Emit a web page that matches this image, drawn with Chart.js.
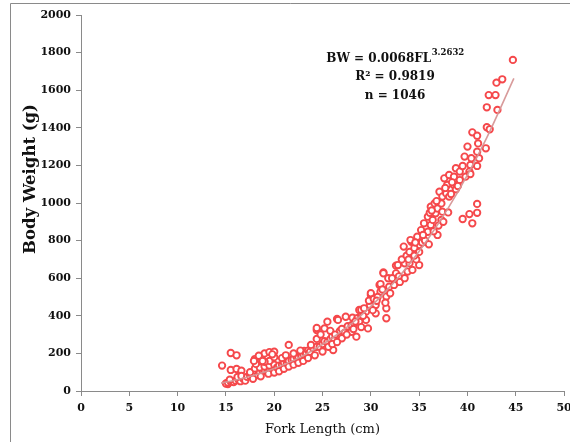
<!DOCTYPE html>
<html>
<head>
<meta charset="utf-8">
<script src="https://cdn.jsdelivr.net/npm/chart.js@4/dist/chart.umd.min.js"></script>
<style>
  html, body { margin: 0; padding: 0; background: #fff; }
  #wrap { width: 570px; height: 442px; position: relative; }
</style>
</head>
<body>
<div id="wrap"><canvas id="c" width="570" height="442"></canvas></div>
<script>
// Fork length (cm) of each plotted fish
const forkLength = [
  14.6,15.5,16.1,15.5,16.1,16.6,15.2,15.0,15.2,15.5,15.8,16.0,16.3,16.5,16.8,17.0,15.4,16.2,16.6,17.0,
  17.2,17.5,17.8,18.0,18.3,18.5,18.8,19.0,19.3,19.5,19.8,20.0,17.5,18.0,18.5,19.0,19.5,20.0,17.8,18.6,19.4,20.0,
  18.0,18.1,18.7,19.0,19.5,20.0,19.5,18.4,19.0,20.0,18.8,19.8,17.9,
  20.3,20.5,20.8,21.0,21.3,21.5,21.8,22.0,22.3,22.5,22.8,23.0,23.1,20.5,21.0,21.5,22.0,22.5,23.0,21.5,20.8,21.2,22.0,22.7,
  23.3,23.5,23.7,24.0,24.4,24.7,24.4,24.4,24.4,23.8,25.0,25.2,25.5,25.8,26.0,26.1,26.2,25.2,25.5,24.8,25.8,23.5,24.2,25.0,25.6,26.0,
  26.5,26.6,27.4,28.1,28.0,28.5,28.6,28.8,29.0,26.3,26.8,27.0,27.3,27.6,28.0,28.3,28.8,29.0,27.0,27.5,28.2,26.5,29.0,
  29.5,29.5,29.7,29.9,30.0,30.0,30.5,30.5,30.9,31.0,31.0,31.3,31.3,31.6,31.6,31.6,31.9,29.3,29.8,30.3,30.7,31.2,31.8,30.2,29.2,
  32.4,32.6,32.6,32.8,33.4,33.5,33.8,34.2,34.3,35.0,35.0,34.1,34.8,32.2,32.9,33.2,33.7,34.0,34.5,34.7,33.0,33.5,34.0,34.5,35.0,
  35.2,35.5,35.9,35.9,36.1,36.2,36.2,36.4,36.6,36.7,36.9,36.9,37.1,37.3,37.3,37.4,37.4,37.6,37.8,37.9,38.1,38.1,35.3,35.6,36.0,36.5,37.0,37.5,38.0,
  38.3,38.6,38.6,38.8,38.8,39.2,39.2,39.5,39.7,39.8,40.0,40.2,40.3,40.3,40.4,40.5,41.0,41.0,41.0,41.1,41.2,41.9,42.0,42.0,42.2,42.3,42.9,43.0,43.1,43.6,44.7,
  41.0,41.0,40.2,39.5,40.5,
  33.9,34.6,35.4,36.3,36.8,37.7,38.4,39.0,31.5,32.0,30.6,28.4
];
// Body weight (g) of each plotted fish
const bodyWeight = [
  135,202,190,112,117,108,37,40,45,50,48,55,60,52,65,70,60,75,80,55,
  75,80,90,95,85,100,105,110,100,115,120,110,100,120,125,130,135,140,65,78,92,98,
  170,144,175,200,207,209,160,188,155,180,160,195,160,
  125,135,140,150,145,160,165,170,182,177,185,195,213,105,118,130,140,150,160,245,175,190,200,215,
  200,215,209,230,235,236,277,324,335,245,250,265,260,275,290,218,271,333,369,300,320,175,190,210,235,250,
  383,378,395,390,315,289,387,431,431,300,320,330,310,345,350,360,370,400,280,300,330,260,340,
  378,422,333,457,511,520,413,457,564,528,569,631,626,440,502,387,555,440,480,490,500,540,600,430,400,
  564,626,667,670,768,679,635,794,644,777,670,803,821,600,610,700,720,740,760,700,580,600,680,720,740,
  856,892,847,927,948,883,980,910,998,945,830,971,1060,910,998,954,1034,1131,1051,1096,1034,1149,790,800,780,850,880,900,950,
  1048,1140,1096,1073,1185,1167,1122,1197,1247,1140,1300,1167,1202,1154,1238,1376,1358,1273,1197,1317,1238,1291,1509,1403,1574,1392,1574,1640,1495,1658,1761,
  995,948,941,915,892,
  700,790,830,960,1010,1080,1110,1090,470,520,480,370
];
// Fitted power curve (BW = 0.0068 FL^3.2632)
const trendLength = [14.5,16,18,20,22,24,26,28,30,32,34,36,38,40,42,44.8];
const trendWeight = [42,58,85,120,163,217,282,359,450,555,676,815,973,1150,1348,1663];

const xTicks = [0,5,10,15,20,25,30,35,40,45,50];
const yTicks = [0,200,400,600,800,1000,1200,1400,1600,1800,2000];

const xTitle = 'Fork Length (cm)';
const yTitle = 'Body Weight (g)';
const annotationLines = ['BW = 0.0068FL', 'R² = 0.9819', 'n = 1046'];
const annotationSup = '3.2632';

const scatterPts = forkLength.map((x, i) => ({ x: x, y: bodyWeight[i] }));
const trendPts = trendLength.map((x, i) => ({ x: x, y: trendWeight[i] }));

const SERIF = '"DejaVu Serif", "Liberation Serif", serif';

const framePlugin = {
  id: 'frame',
  beforeDraw(chart) {
    const ctx = chart.ctx;
    ctx.save();
    ctx.fillStyle = '#fff';
    ctx.fillRect(0, 0, chart.width, chart.height);
    ctx.strokeStyle = '#8a8a8a';
    ctx.lineWidth = 1;
    ctx.beginPath();
    ctx.moveTo(10.5, chart.height);
    ctx.lineTo(10.5, 3.5);
    ctx.lineTo(chart.width, 3.5);
    ctx.stroke();
    ctx.restore();
  },
  afterDraw(chart) {
    const ctx = chart.ctx;
    ctx.save();
    // y axis title
    ctx.fillStyle = '#111';
    ctx.font = 'bold 16.5px ' + SERIF;
    ctx.textAlign = 'center';
    ctx.textBaseline = 'middle';
    ctx.translate(31, 179);
    ctx.rotate(-Math.PI / 2);
    ctx.fillText(yTitle, 0, 0);
    ctx.restore();

    // equation block
    const cx = 395;
    ctx.save();
    ctx.fillStyle = '#111';
    ctx.textBaseline = 'alphabetic';
    ctx.font = 'bold 12px ' + SERIF;
    const mainW = ctx.measureText(annotationLines[0]).width;
    ctx.font = 'bold 8.5px ' + SERIF;
    const supW = ctx.measureText(annotationSup).width;
    const start = cx - (mainW + supW) / 2;
    ctx.font = 'bold 12px ' + SERIF;
    ctx.textAlign = 'left';
    ctx.fillText(annotationLines[0], start, 62);
    ctx.font = 'bold 8.5px ' + SERIF;
    ctx.fillText(annotationSup, start + mainW + 0.5, 55);
    ctx.font = 'bold 12px ' + SERIF;
    ctx.textAlign = 'center';
    ctx.fillText(annotationLines[1], cx, 80);
    ctx.fillText(annotationLines[2], cx, 98.5);
    ctx.restore();
  }
};

new Chart(document.getElementById('c'), {
  type: 'scatter',
  data: {
    datasets: [
      {
        type: 'line',
        data: trendPts,
        borderColor: 'rgba(214,150,150,0.95)',
        borderWidth: 1.6,
        pointRadius: 0,
        fill: false,
        cubicInterpolationMode: 'monotone',
        order: 0
      },
      {
        data: scatterPts,
        pointRadius: 3.2,
        pointBorderWidth: 1.9,
        borderColor: '#f5484b',
        backgroundColor: '#ffffff',
        pointBackgroundColor: '#ffffff',
        pointBorderColor: '#f5484b',
        order: 1
      }
    ]
  },
  options: {
    responsive: false,
    animation: false,
    devicePixelRatio: 1,
    layout: { padding: { left: 0, right: 5, top: 15, bottom: 0 } },
    plugins: { legend: { display: false }, tooltip: { enabled: false } },
    scales: {
      x: {
        type: 'linear',
        min: 0, max: 50,
        afterBuildTicks(s) { s.ticks = xTicks.map(v => ({ value: v })); },
        afterFit(s) { s.height = 51; s.paddingLeft = 0; s.paddingRight = 0; },
        border: { display: true, color: '#8a8a8a', width: 1 },
        grid: { display: true, drawOnChartArea: false, drawTicks: true, tickLength: 5, color: '#8a8a8a' },
        ticks: { color: '#111', font: { family: SERIF, size: 11, weight: 'bold' }, padding: 6, maxRotation: 0,
                 callback: v => String(v) },
        title: { display: true, text: xTitle, color: '#111', font: { family: SERIF, size: 13, weight: 'normal' }, padding: { top: 3, bottom: 5 } }
      },
      y: {
        type: 'linear',
        min: 0, max: 2000,
        afterBuildTicks(s) { s.ticks = yTicks.map(v => ({ value: v })); },
        afterFit(s) { s.width = 81; s.paddingTop = 0; s.paddingBottom = 0; },
        border: { display: true, color: '#8a8a8a', width: 1 },
        grid: { display: true, drawOnChartArea: false, drawTicks: true, tickLength: 5, color: '#8a8a8a' },
        ticks: { color: '#111', font: { family: SERIF, size: 11, weight: 'bold' }, padding: 5,
                 callback: v => String(v) },
        title: { display: false }
      }
    }
  },
  plugins: [framePlugin]
});
</script>
</body>
</html>
